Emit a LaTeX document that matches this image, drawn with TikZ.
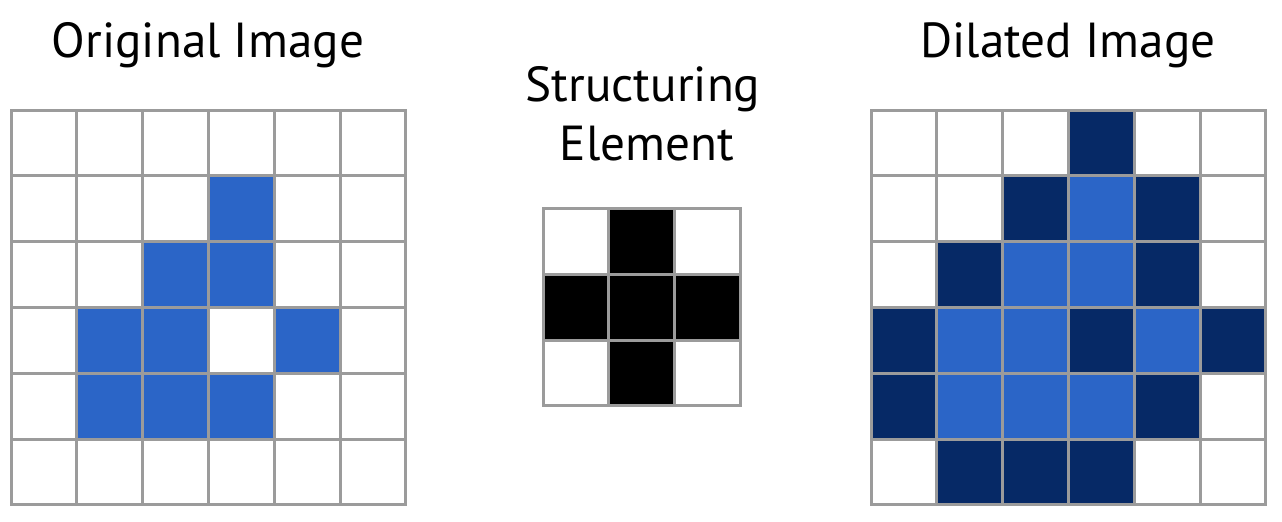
\documentclass[tikz,border=0pt]{standalone}
\usepackage{fontspec}
\setmainfont{PT Sans}
\definecolor{pixblue}{RGB}{43,101,199}
\definecolor{pixnavy}{RGB}{6,41,102}
\definecolor{gridgray}{RGB}{155,155,155}

\begin{document}
\begin{tikzpicture}[x=0.5pt,y=0.5pt]
  \tikzset{title/.style={font=\fontsize{24.6}{28}\selectfont,inner sep=0pt,anchor=base},
           gridline/.style={draw=gridgray,line width=1.5pt},
           pixgrid/.style={x=32.915pt,y=-32.915pt}}
  \useasboundingbox (0,0) rectangle (1282,521);
  \fill[white] (0,0) rectangle (1282,521);
  % titles
  \node[title] (orig) at (208,464) {Original Image};
  \node[title] (se1) at (643,420) {Structuring};
  \node[title] (se2) at (647,361) {Element};
  \node[title] (dil) at (1068,464) {Dilated Image};
  % original image
  \begin{scope}[pixgrid,xshift=5.5pt,yshift=205.5pt]
    \foreach \c/\r in {3/1,2/2,3/2,1/3,2/3,4/3,1/4,2/4,3/4}
      \fill[pixblue] (\c,\r) rectangle ++(1,1);
    \foreach \i in {1,...,5}
      \draw[gridline] (\i,0) -- (\i,6) (0,\i) -- (6,\i);
    \draw[gridline] (0,0) rectangle (6,6);
  \end{scope}
  % structuring element
  \begin{scope}[pixgrid,xshift=271.5pt,yshift=156.25pt]
    \foreach \c/\r in {1/0,0/1,1/1,2/1,1/2}
      \fill[black] (\c,\r) rectangle ++(1,1);
    \foreach \i in {1,2}
      \draw[gridline] (\i,0) -- (\i,3) (0,\i) -- (3,\i);
    \draw[gridline] (0,0) rectangle (3,3);
  \end{scope}
  % dilated image
  \begin{scope}[pixgrid,xshift=435.5pt,yshift=205.5pt]
    \foreach \c/\r in {3/0,2/1,4/1,1/2,4/2,0/3,3/3,5/3,0/4,4/4,1/5,2/5,3/5}
      \fill[pixnavy] (\c,\r) rectangle ++(1,1);
    \foreach \c/\r in {3/1,2/2,3/2,1/3,2/3,4/3,1/4,2/4,3/4}
      \fill[pixblue] (\c,\r) rectangle ++(1,1);
    \foreach \i in {1,...,5}
      \draw[gridline] (\i,0) -- (\i,6) (0,\i) -- (6,\i);
    \draw[gridline] (0,0) rectangle (6,6);
  \end{scope}
\end{tikzpicture}
\end{document}
